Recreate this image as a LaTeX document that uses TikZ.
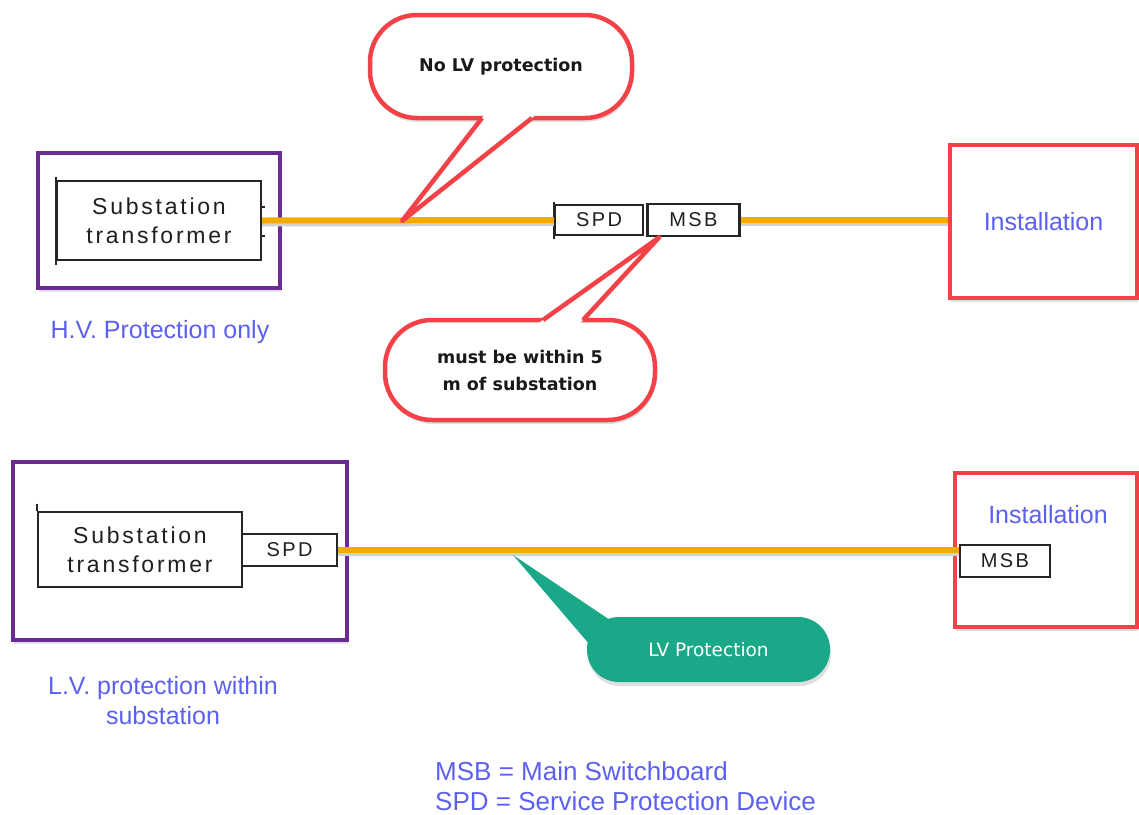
\documentclass[tikz,border=0pt]{standalone}
\usepackage{fontspec}
\setmainfont{Liberation Sans}
\newfontfamily\devfont[LetterSpace=12]{Liberation Sans}
\newfontfamily\notefont{DejaVu Sans}
\usetikzlibrary{positioning,calc,shadows}
\definecolor{hvpurple}{RGB}{106,44,145}
\definecolor{sitered}{RGB}{242,66,72}
\definecolor{wireorange}{RGB}{245,170,0}
\definecolor{labelblue}{RGB}{92,96,240}
\definecolor{lvgreen}{RGB}{26,168,136}

\begin{document}
\begin{tikzpicture}[x=1pt, y=-1pt,
    every node/.style={inner sep=0pt},
    outerbox/.style={draw=hvpurple, line width=4pt, fill=white,
      drop shadow={opacity=0.25, shadow xshift=1pt, shadow yshift=-4pt}},
    sitebox/.style={outerbox, draw=sitered},
    devbox/.style={draw=black!85, line width=2.2pt, fill=white, align=center,
      font=\devfont\fontsize{23}{29}\selectfont, text=black!88},
    tagbox/.style={devbox, font=\devfont\fontsize{20}{24}\selectfont},
    wire/.style={draw=wireorange, line width=6pt,
      preaction={draw=black!18, line width=6pt, transform canvas={yshift=-3pt}}},
    bluelabel/.style={text=labelblue, align=center, font=\fontsize{25}{30}\selectfont},
    redcallout/.style={draw=sitered, line width=4.5pt, fill=white, rounded corners=47pt,
      align=center, font=\notefont\bfseries\fontsize{17.5}{27}\selectfont, text=black!90,
      drop shadow={opacity=0.25, shadow xshift=1pt, shadow yshift=-4pt}},
    tail/.style={draw=sitered, line width=4.5pt, line join=round},
    greencallout/.style={fill=lvgreen, rounded corners=32pt, text=white,
      font=\notefont\fontsize{18.5}{22}\selectfont,
      drop shadow={opacity=0.25, shadow xshift=1pt, shadow yshift=-4pt}}
  ]
  \useasboundingbox (0,0) rectangle (1139,814);

  % ---- top: H.V. protection only
  \node[outerbox, minimum width=242, minimum height=135] (hv1) at (159,220.5) {};
  \node[devbox, minimum width=204, minimum height=79] (tr1) at (159,220.5) {Substation\\transformer};
  \draw[line width=2.2pt, black!85] (tr1.north west) ++(0,-3) -- ++(0,88);
  \draw[line width=2pt, black!85] (tr1.east) ++(0,-14) -- ++(3,0);
  \draw[line width=2pt, black!85] (tr1.east) ++(0,15) -- ++(3,0);

  \node[tagbox, minimum width=88, minimum height=30] (spd1) at (599,220) {SPD};
  \draw[line width=2.2pt, black!85] (spd1.north west) ++(0,-2) -- ++(0,37);
  \node[tagbox, line width=2.8pt, minimum width=92, minimum height=32, right=2pt of spd1] (msb1) {MSB};
  \node[sitebox, bluelabel, minimum width=187, minimum height=153] (inst1) at (1043.5,221.5) {Installation};

  \draw[wire] (tr1.east) -- (spd1.west);
  \draw[wire] (msb1.east) -- (msb1.east -| inst1.west);

  \node[bluelabel] (hvnote) at (160,332) {H.V. Protection only};

  % callout: no LV protection
  \node[redcallout, minimum width=262, minimum height=103] (nolv) at (501,66.5) {No LV protection};
  \coordinate (hvtap) at (402,221);
  \coordinate (nolv-a) at (482,118);
  \coordinate (nolv-b) at (532,118);
  \fill[white] (hvtap) -- ($(hvtap)!1.12!(nolv-a)$) -- ($(hvtap)!1.12!(nolv-b)$) -- cycle;
  \draw[tail] (nolv-a) -- (hvtap) -- (nolv-b);

  % callout: within 5 m
  \node[redcallout, minimum width=270, minimum height=100] (within) at (520,370) {must be within 5\\m of substation};
  \coordinate (msbtap) at ($(msb1.south west)+(13,0)$);
  \coordinate (within-a) at (543,320);
  \coordinate (within-b) at (583,320);
  \fill[white] (msbtap) -- ($(msbtap)!1.12!(within-a)$) -- ($(msbtap)!1.12!(within-b)$) -- cycle;
  \draw[tail] (within-a) -- (msbtap) -- (within-b);

  % ---- bottom: L.V. protection within substation
  \node[outerbox, minimum width=334, minimum height=178] (hv2) at (180,551) {};
  \node[devbox, minimum width=204, minimum height=75] (tr2) at (140,549.5) {Substation\\transformer};
  \draw[line width=2.2pt, black!85] (tr2.north west) ++(0,-7) -- (tr2.north west);
  \node[tagbox, minimum width=95, minimum height=32] (spd2) at (289.5,550) {SPD};

  \node[sitebox, minimum width=182, minimum height=154] (inst2) at (1046,550) {};
  \node[bluelabel] (inst2txt) at (1048,515) {Installation};
  \node[tagbox, minimum width=90, minimum height=32] (msb2) at (1005,561) {MSB};

  \draw[wire] (spd2.east) -- (spd2.east -| msb2.west);

  % callout: LV protection
  \node[greencallout, minimum width=243, minimum height=65] (lvprot) at (708.5,649.5) {LV Protection};
  \coordinate (lvtap) at (513,555);
  \fill[lvgreen] (lvtap) -- ($(lvtap)!1.15!(584,638)$) -- ($(lvtap)!1.15!(607,618)$) -- cycle;

  \node[bluelabel] (lvnote) at (163,701) {L.V. protection within\\substation};

  % legend
  \node[bluelabel, font=\fontsize{26}{30}\selectfont, align=left, anchor=west] (legend) at (435,786)
    {MSB = Main Switchboard\\SPD = Service Protection Device};
\end{tikzpicture}
\end{document}
